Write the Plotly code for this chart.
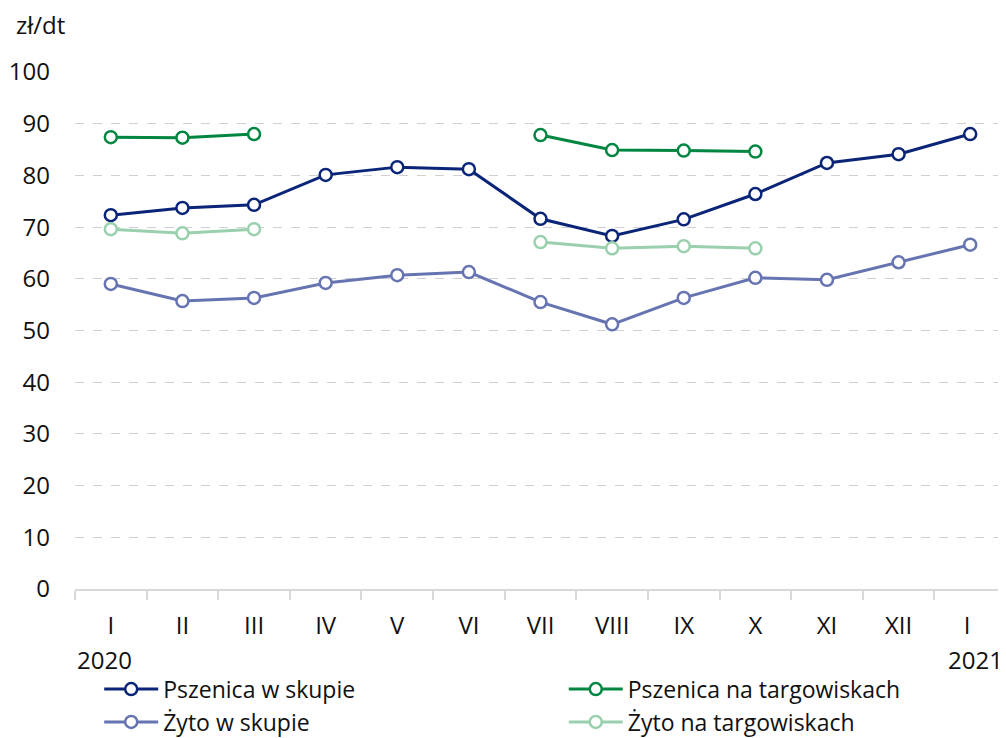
import plotly.graph_objects as go

months = ["I", "II", "III", "IV", "V", "VI", "VII", "VIII", "IX", "X", "XI", "XII", "I "]
pszenica_skup = [72.3, 73.7, 74.3, 80.1, 81.6, 81.2, 71.6, 68.3, 71.5, 76.4, 82.4, 84.1, 88.0]
pszenica_targ = [87.4, 87.3, 88.0, None, None, None, 87.8, 84.9, 84.8, 84.6, None, None, None]
zyto_skup = [59.0, 55.7, 56.3, 59.2, 60.7, 61.3, 55.5, 51.2, 56.3, 60.2, 59.8, 63.2, 66.6]
zyto_targ = [69.6, 68.8, 69.6, None, None, None, 67.1, 65.9, 66.3, 65.9, None, None, None]
y_ticks = [0, 10, 20, 30, 40, 50, 60, 70, 80, 90, 100]

FONT = "Open Sans"
FS = 24
series = [
    ("Pszenica w skupie", pszenica_skup, "#0A2478", "legend"),
    ("Pszenica na targowiskach", pszenica_targ, "#008641", "legend2"),
    ("Żyto w skupie", zyto_skup, "#6674B2", "legend"),
    ("Żyto na targowiskach", zyto_targ, "#9AD0AE", "legend2"),
]

fig = go.Figure()
for name, vals, col, lg in series:
    fig.add_trace(go.Scatter(
        x=months, y=vals, name=name, mode="lines+markers",
        connectgaps=False, legend=lg,
        line=dict(color=col, width=3),
        marker=dict(symbol="circle", size=12, color="white", line=dict(color=col, width=2.5)),
    ))

legend_common = dict(
    orientation="v", yanchor="top", xanchor="left",
    font=dict(family=FONT, size=23, color="#111111"),
    bgcolor="rgba(0,0,0,0)", tracegroupgap=0, traceorder="normal",
    itemwidth=54,
)

fig.update_layout(
    width=998, height=730,
    paper_bgcolor="white", plot_bgcolor="white",
    margin=dict(l=67, r=0, t=64, b=149, autoexpand=False),
    font=dict(family=FONT, size=FS, color="#111111"),
    showlegend=True,
    legend=dict(legend_common, x=0.026, y=-0.152),
    legend2=dict(legend_common, x=0.525, y=-0.152),
    xaxis=dict(
        type="category", range=[-0.5, 12.5], autorange=False,
        showgrid=False, showline=True, linecolor="#D9D9D9", linewidth=1.5,
        ticks="outside", tickson="boundaries", ticklen=9, tickcolor="#D9D9D9", tickwidth=1.5,
        ticklabelstandoff=14, tickfont=dict(family=FONT, size=FS),
        zeroline=False, automargin=False,
    ),
    yaxis=dict(
        range=[0, 100], tickvals=y_ticks, showgrid=True, gridcolor="#D0D0D0", griddash="dash",
        gridwidth=1, showline=False, zeroline=False, ticks="", ticklabelstandoff=24,
        tickfont=dict(family=FONT, size=FS), automargin=False,
    ),
    annotations=[
        dict(text="zł/dt", xref="paper", yref="paper", x=-0.066, y=1.092, xanchor="left",
             yanchor="middle", showarrow=False, font=dict(family=FONT, size=FS)),
        dict(text="2020", xref="paper", yref="paper", x=0.0, y=-0.137, xanchor="left",
             yanchor="middle", showarrow=False, font=dict(family=FONT, size=FS)),
        dict(text="2021", xref="paper", yref="paper", x=0.999, y=-0.137, xanchor="right",
             yanchor="middle", showarrow=False, font=dict(family=FONT, size=FS)),
    ],
)

fig.write_html("out.html")
